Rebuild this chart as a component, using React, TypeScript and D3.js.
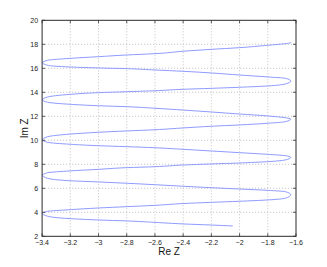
import * as d3 from "d3";

// Curve, ordered from start (bottom) to end (top)
const reZ = [
  -2.048, -2.2, -2.4, -2.6, -2.8, -3.0, -3.2, -3.36, -3.397,
  -3.36, -3.2, -3.0, -2.8, -2.6, -2.4, -2.2, -2.0, -1.8, -1.677, -1.637,
  -1.677, -1.8, -2.0, -2.2, -2.4, -2.6, -2.8, -3.0, -3.2, -3.36, -3.397,
  -3.36, -3.2, -3.0, -2.8, -2.6, -2.4, -2.2, -2.0, -1.8, -1.677, -1.637,
  -1.677, -1.8, -2.0, -2.2, -2.4, -2.6, -2.8, -3.0, -3.2, -3.36, -3.397,
  -3.36, -3.2, -3.0, -2.8, -2.6, -2.4, -2.2, -2.0, -1.8, -1.677, -1.637,
  -1.677, -1.8, -2.0, -2.2, -2.4, -2.6, -2.8, -3.0, -3.2, -3.36, -3.397,
  -3.36, -3.2, -3.0, -2.8, -2.6, -2.4, -2.2, -2.0, -1.8, -1.677, -1.637,
  -1.677, -1.8, -2.0, -2.2, -2.4, -2.6, -2.8, -3.0, -3.2, -3.36, -3.397,
  -3.36, -3.2, -3.0, -2.8, -2.6, -2.4, -2.2, -2.0, -1.8, -1.677, -1.635,
];
const imZ = [
  2.86, 2.94, 3.03, 3.16, 3.28, 3.36, 3.47, 3.67, 3.9,
  4.08, 4.22, 4.36, 4.47, 4.58, 4.73, 4.83, 4.92, 5.03, 5.17, 5.47,
  5.72, 5.83, 5.94, 6.05, 6.17, 6.3, 6.42, 6.53, 6.63, 6.83, 7.08,
  7.3, 7.45, 7.58, 7.72, 7.8, 7.94, 8.03, 8.11, 8.22, 8.36, 8.58,
  8.72, 8.83, 8.97, 9.11, 9.25, 9.38, 9.47, 9.55, 9.67, 9.83, 10.05,
  10.3, 10.52, 10.67, 10.78, 10.88, 11.03, 11.17, 11.28, 11.42, 11.55, 11.78,
  11.88, 12.03, 12.19, 12.36, 12.52, 12.67, 12.8, 12.88, 13.0, 13.17, 13.38,
  13.61, 13.83, 13.97, 14.05, 14.13, 14.25, 14.33, 14.42, 14.53, 14.69, 14.94,
  15.17, 15.28, 15.44, 15.61, 15.75, 15.86, 15.97, 16.03, 16.11, 16.25, 16.47,
  16.67, 16.83, 16.97, 17.11, 17.22, 17.42, 17.58, 17.72, 17.92, 18.05, 18.13,
];

const xTicks = [-3.4, -3.2, -3, -2.8, -2.6, -2.4, -2.2, -2, -1.8, -1.6];
const yTicks = [2, 4, 6, 8, 10, 12, 14, 16, 18, 20];

const width = 327;
const height = 267;
const margin = { top: 20.3, right: 31, bottom: 30.7, left: 42.1 };

export default function App() {
  const x = d3
    .scaleLinear()
    .domain([-3.4, -1.6])
    .range([margin.left, width - margin.right]);
  const y = d3
    .scaleLinear()
    .domain([2, 20])
    .range([height - margin.bottom, margin.top]);

  const points = reZ.map((r, i) => [r, imZ[i]] as [number, number]);
  // Im Z rises monotonically, so monotoneY keeps the turns round
  const line = d3
    .line<[number, number]>()
    .x((d) => x(d[0]))
    .y((d) => y(d[1]))
    .curve(d3.curveMonotoneY);

  const x0 = x.range()[0];
  const x1 = x.range()[1];
  const y0 = y.range()[0];
  const y1 = y.range()[1];
  const fmt = (v: number) => String(v).replace("-", "\u2212");

  return (
    <svg
      width={width}
      height={height}
      style={{ position: "absolute", left: 0, top: 0, background: "#fff" }}
      fontFamily="'Liberation Sans', Arial, sans-serif"
    >
      {/* grid */}
      <g stroke="#b0b0b0" strokeWidth={0.8} strokeDasharray="1,2">
        {xTicks.slice(1, -1).map((t) => (
          <line key={"gx" + t} x1={x(t)} x2={x(t)} y1={y0} y2={y1} />
        ))}
        {yTicks.slice(1, -1).map((t) => (
          <line key={"gy" + t} x1={x0} x2={x1} y1={y(t)} y2={y(t)} />
        ))}
      </g>

      <path
        d={line(points) ?? ""}
        fill="none"
        stroke="#8e9bff"
        strokeWidth={1}
      />

      {/* ticks on all four sides, pointing inwards */}
      <g stroke="#333" strokeWidth={0.8}>
        {xTicks.map((t) => (
          <g key={"tx" + t}>
            <line x1={x(t)} x2={x(t)} y1={y0} y2={y0 - 3} />
            <line x1={x(t)} x2={x(t)} y1={y1} y2={y1 + 3} />
          </g>
        ))}
        {yTicks.map((t) => (
          <g key={"ty" + t}>
            <line x1={x0} x2={x0 + 3} y1={y(t)} y2={y(t)} />
            <line x1={x1} x2={x1 - 3} y1={y(t)} y2={y(t)} />
          </g>
        ))}
      </g>

      <rect
        x={x0}
        y={y1}
        width={x1 - x0}
        height={y0 - y1}
        fill="none"
        stroke="#2a2a2a"
        strokeWidth={1}
      />

      <g fontSize={7} fill="#222">
        {xTicks.map((t) => (
          <text key={"lx" + t} x={x(t)} y={y0 + 9} textAnchor="middle">
            {fmt(t)}
          </text>
        ))}
        {yTicks.map((t) => (
          <text
            key={"ly" + t}
            x={x0 - 4}
            y={y(t) + 2.5}
            textAnchor="end"
          >
            {fmt(t)}
          </text>
        ))}
      </g>

      <text
        x={(x0 + x1) / 2}
        y={255}
        textAnchor="middle"
        fontSize={10}
        fill="#111"
      >
        Re Z
      </text>
      <text
        transform={`translate(28,${(y0 + y1) / 2}) rotate(-90)`}
        textAnchor="middle"
        fontSize={10}
        fill="#111"
      >
        Im Z
      </text>
    </svg>
  );
}
